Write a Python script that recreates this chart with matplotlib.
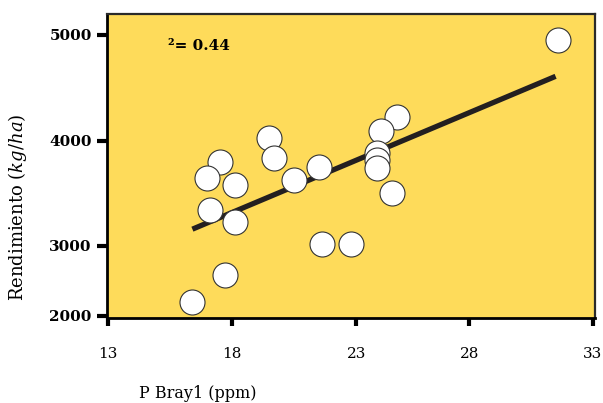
import numpy as np
import matplotlib
matplotlib.use("Agg")
import matplotlib.pyplot as plt
from matplotlib.ticker import FixedLocator

# data
p_bray = [31.6, 24.8, 24.1, 23.9, 23.9, 23.9, 24.6, 19.5, 19.7, 17.5,
          17.0, 18.1, 20.5, 21.5, 17.1, 18.1, 21.6, 22.8, 17.7, 16.4]
rend = [4950, 4230, 4090, 3890, 3820, 3740, 3500, 4030, 3840, 3800,
        3650, 3580, 3630, 3750, 3340, 3230, 3020, 3020, 2590, 2200]
fit_x = [16.4, 31.5]
fit_y = [3160, 4610]
r2_label = "²= 0.44"
x_ticks = [13, 18, 23, 28, 33]
y_ticks = [2000, 3000, 4000, 5000]

BG = "#FEDB5A"

# the original axes are not evenly spaced: piecewise-linear scales
X_KNOTS = [0, 13, 18, 23, 28, 33, 60]
X_POS = [-214.4, 108, 232, 356, 469, 592, 1256.2]
Y_KNOTS = [0, 2000, 3000, 4000, 5000, 9000]
Y_POS = [-53, 87, 157, 262, 368, 792]


def pw(knots, pos):
    fwd = lambda v: np.interp(v, knots, pos)
    inv = lambda v: np.interp(v, pos, knots)
    return fwd, inv


plt.rcParams["mathtext.fontset"] = "dejavuserif"
plt.rcParams["font.family"] = "DejaVu Serif"

fig = plt.figure(figsize=(6.03, 4.03), dpi=100)
ax = fig.add_axes([107 / 603, 1 - 318 / 403, 488 / 603, 304 / 403])
ax.set_facecolor(BG)
ax.set_xscale("function", functions=pw(X_KNOTS, X_POS))
ax.set_yscale("function", functions=pw(Y_KNOTS, Y_POS))

ax.plot(fit_x, fit_y, color="#231f20", lw=3.8, solid_capstyle="butt", zorder=2)
ax.plot(p_bray, rend, "o", ms=18, mfc="white", mec="#333333", mew=0.8,
        zorder=3, ls="none")

ax.set_xlim(12.96, 33.1)
ax.set_ylim(1971, 5198)
ax.xaxis.set_major_locator(FixedLocator(x_ticks))
ax.yaxis.set_major_locator(FixedLocator(y_ticks))
ax.xaxis.set_minor_locator(FixedLocator([]))
ax.yaxis.set_minor_locator(FixedLocator([]))
ax.set_xticklabels([str(t) for t in x_ticks], fontsize=11)
ax.set_yticklabels([str(t) for t in y_ticks], fontsize=11, fontweight="bold")
ax.tick_params(axis="x", direction="out", length=6, width=3, pad=15, color="black")
ax.tick_params(axis="y", direction="out", length=7, width=3, pad=4, color="black")

for side in ["top", "right"]:
    ax.spines[side].set_color("#2a2a2a")
    ax.spines[side].set_linewidth(1.6)
ax.spines["left"].set_color("black")
ax.spines["left"].set_linewidth(2)
ax.spines["bottom"].set_color("black")
ax.spines["bottom"].set_linewidth(2)

ax.text(0.125, 0.895, r2_label, transform=ax.transAxes, fontsize=11,
        fontweight="bold", ha="left", va="center")

fig.text(198 / 603, 1 - 393 / 403, "P Bray1 (ppm)", fontsize=11.5,
         ha="center", va="center")
fig.text(18 / 603, 1 - 207 / 403, r"Rendimiento $\mathit{(kg/ha)}$",
         fontsize=13, rotation=90, ha="center", va="center")

fig.savefig("out.png", dpi=100, facecolor="white")
